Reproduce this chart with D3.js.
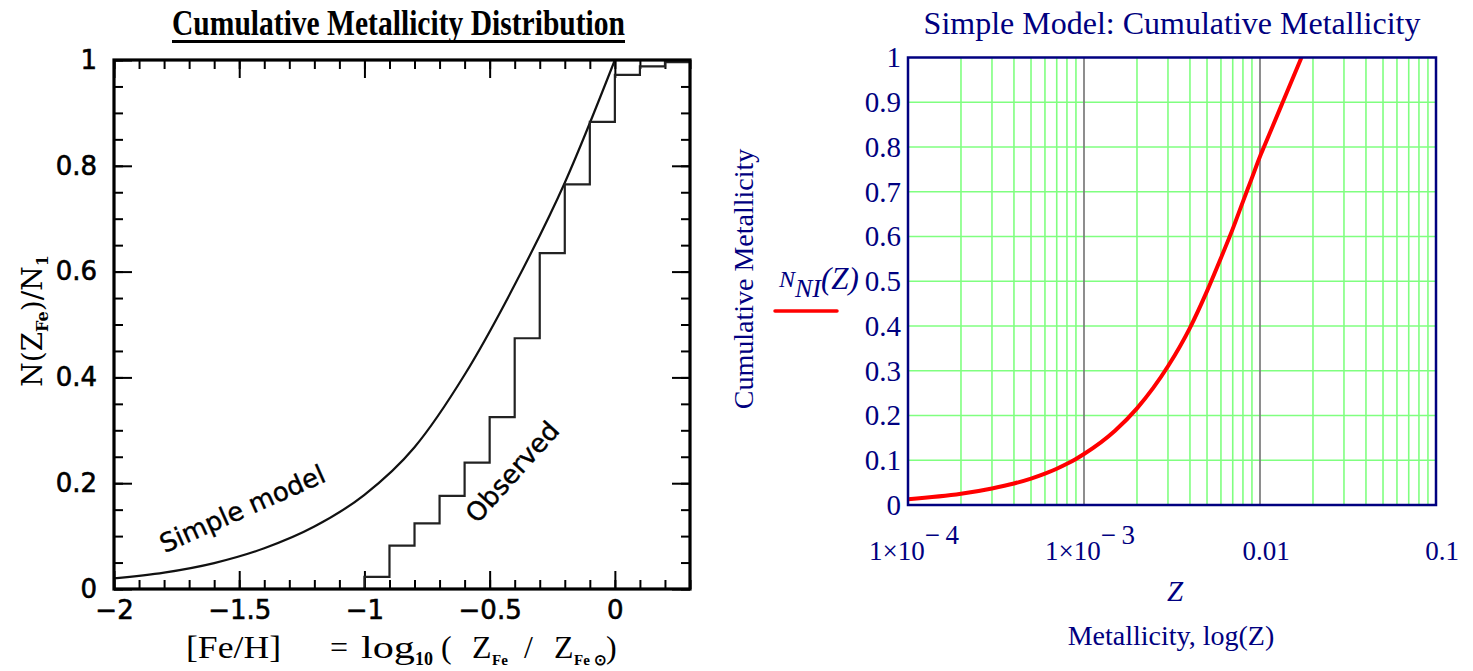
<!DOCTYPE html>
<html><head><meta charset="utf-8">
<script src="https://cdn.jsdelivr.net/npm/d3@7"></script>
<style>html,body{margin:0;padding:0;background:#fff;} svg{display:block;}</style>
</head><body><svg id="c" width="1473" height="671"></svg>
<script>
// ---------------- DATA ----------------
// Left panel: [Fe/H] ticks
const leftXTicks = [-2, -1.5, -1, -0.5, 0];
const leftXTickLabels = ["\u22122", "\u22121.5", "\u22121", "\u22120.5", "0"];
const leftYTicks = [0, 0.2, 0.4, 0.6, 0.8, 1];
const leftYTickLabels = ["0", "0.2", "0.4", "0.6", "0.8", "1"];
// Simple model curve (left)
const modelFeH = [-2.0, -1.8, -1.6, -1.4, -1.2, -1.0, -0.8, -0.6, -0.4, -0.2, 0.0];
const modelN   = [0.020, 0.031, 0.049, 0.077, 0.118, 0.178, 0.268, 0.405, 0.575, 0.768, 1.0];
// Observed cumulative histogram (left)
const obsEdges = [-1.0, -0.9, -0.8, -0.7, -0.6, -0.5, -0.4, -0.3, -0.2, -0.1, 0.0, 0.1, 0.2, 0.3];
const obsN     = [0.023, 0.082, 0.124, 0.176, 0.239, 0.325, 0.474, 0.635, 0.765, 0.883, 0.972, 0.988, 0.996];
// Right panel: simple model vs Z
const rightZ = [1e-4, 2e-4, 3e-4, 4e-4, 5e-4, 6e-4, 7e-4, 8e-4, 9e-4, 1e-3, 1.5e-3, 2e-3, 3e-3, 4e-3, 5e-3, 6e-3, 7e-3, 8e-3, 9e-3, 1e-2, 0.01053, 0.01346, 0.0172];
const rightN = [0.013, 0.025, 0.037, 0.048, 0.059, 0.070, 0.081, 0.092, 0.103, 0.114, 0.166, 0.216, 0.310, 0.396, 0.478, 0.552, 0.617, 0.678, 0.731, 0.779, 0.8, 0.9, 1.0];
const rightYTicks = [0, 0.1, 0.2, 0.3, 0.4, 0.5, 0.6, 0.7, 0.8, 0.9, 1];
const rightYTickLabels = ["0", "0.1", "0.2", "0.3", "0.4", "0.5", "0.6", "0.7", "0.8", "0.9", "1"];
const rightXTicks = [1e-4, 1e-3, 1e-2, 0.1];
const rightXTickMantissa = ["1\u00d710", "1\u00d710", "0.01", "0.1"];
const rightXTickExp = ["\u2212\u20094", "\u2212\u20093", "", ""];

// ---------------- DRAW ----------------
const svg = d3.select("#c");
svg.append("rect").attr("width", 1473).attr("height", 671).attr("fill", "#fff");

// ===== LEFT PANEL =====
const L = {x0: 114, x1: 690, y0: 589, y1: 60};
const lx = d3.scaleLinear().domain([-2, 0.3]).range([L.x0, L.x1]);
const ly = d3.scaleLinear().domain([0, 1]).range([L.y0, L.y1]);
const left = svg.append("g");

// title
left.append("text").attr("x", 398.5).attr("y", 35)
  .attr("text-anchor", "middle")
  .attr("font-family", "Liberation Serif").attr("font-weight", "bold").attr("font-size", 35)
  .attr("textLength", 453).attr("lengthAdjust", "spacingAndGlyphs")
  .text("Cumulative Metallicity Distribution");
left.append("line").attr("x1", 172).attr("x2", 625).attr("y1", 41.5).attr("y2", 41.5)
  .attr("stroke", "#000").attr("stroke-width", 3);

const minorX = d3.range(-20, 4).map(d => d / 10);
const minorY = d3.range(0, 21).map(d => d / 20);

function styleAxis(g) {
  g.select(".domain").remove();
  g.selectAll(".tick line").attr("stroke", "#000").attr("stroke-width", 2);
}
const tickFont = g => g.selectAll("text").attr("font-family", "DejaVu Sans").attr("font-size", 26)
  .attr("fill", "#000").attr("stroke", "#000").attr("stroke-width", 0.6);

left.append("g").attr("transform", `translate(0,${L.y0})`)
  .call(d3.axisBottom(lx).tickValues(minorX).tickSize(-9).tickFormat("")).call(styleAxis);
left.append("g").attr("transform", `translate(0,${L.y0})`)
  .call(d3.axisBottom(lx).tickValues(leftXTicks).tickSize(-18).tickPadding(12)
    .tickFormat((d, i) => leftXTickLabels[i])).call(styleAxis).call(tickFont);
left.append("g").attr("transform", `translate(0,${L.y1})`)
  .call(d3.axisTop(lx).tickValues(minorX).tickSize(-9).tickFormat("")).call(styleAxis);
left.append("g").attr("transform", `translate(0,${L.y1})`)
  .call(d3.axisTop(lx).tickValues(leftXTicks).tickSize(-18).tickFormat("")).call(styleAxis);
left.append("g").attr("transform", `translate(${L.x0},0)`)
  .call(d3.axisLeft(ly).tickValues(minorY).tickSize(-9).tickFormat("")).call(styleAxis);
left.append("g").attr("transform", `translate(${L.x0},0)`)
  .call(d3.axisLeft(ly).tickValues(leftYTicks).tickSize(-18).tickPadding(17)
    .tickFormat((d, i) => leftYTickLabels[i])).call(styleAxis).call(tickFont);
left.append("g").attr("transform", `translate(${L.x1},0)`)
  .call(d3.axisRight(ly).tickValues(minorY).tickSize(-9).tickFormat("")).call(styleAxis);
left.append("g").attr("transform", `translate(${L.x1},0)`)
  .call(d3.axisRight(ly).tickValues(leftYTicks).tickSize(-18).tickFormat("")).call(styleAxis);

// simple model curve
const modelPts = modelFeH.map((v, i) => [v, modelN[i]]);
left.append("path").datum(modelPts)
  .attr("d", d3.line().x(d => lx(d[0])).y(d => ly(d[1])).curve(d3.curveMonotoneX))
  .attr("fill", "none").attr("stroke", "#111").attr("stroke-width", 2.2);

// observed steps
const obsPts = [[obsEdges[0], 0]];
obsN.forEach((v, i) => obsPts.push([obsEdges[i], v]));
obsPts.push([obsEdges[obsEdges.length - 1], obsN[obsN.length - 1]]);
left.append("path").datum(obsPts)
  .attr("d", d3.line().x(d => lx(d[0])).y(d => ly(d[1])).curve(d3.curveStepAfter))
  .attr("fill", "none").attr("stroke", "#222").attr("stroke-width", 2.2);

// frame
left.append("rect").attr("x", L.x0).attr("y", L.y1).attr("width", L.x1 - L.x0).attr("height", L.y0 - L.y1)
  .attr("fill", "none").attr("stroke", "#000").attr("stroke-width", 3.2);

// annotations
left.append("text").attr("transform", "translate(246,517) rotate(-24)")
  .attr("text-anchor", "middle").attr("font-family", "DejaVu Sans").attr("font-size", 26)
  .attr("stroke", "#000").attr("stroke-width", 0.4)
  .text("Simple model");
left.append("text").attr("transform", "translate(519,478) rotate(-48)")
  .attr("text-anchor", "middle").attr("font-family", "DejaVu Sans").attr("font-size", 26)
  .attr("stroke", "#000").attr("stroke-width", 0.4)
  .text("Observed");

// y label
const ylab = left.append("text").attr("transform", "translate(42,321) rotate(-90)")
  .attr("text-anchor", "middle").attr("font-family", "DejaVu Serif").attr("font-size", 28);
ylab.append("tspan").text("N(Z");
ylab.append("tspan").attr("font-size", 16).attr("font-weight", "bold").attr("dy", 6).text("Fe");
ylab.append("tspan").attr("dy", -6).text(")/N");
ylab.append("tspan").attr("font-size", 16).attr("font-weight", "bold").attr("dy", 6).text("1");

// x label, pieces
const xl = left.append("text").attr("y", 658).attr("font-family", "Liberation Serif").attr("font-size", 32);
xl.append("tspan").attr("x", 186).attr("textLength", 95).attr("lengthAdjust", "spacingAndGlyphs").text("[Fe/H]");
xl.append("tspan").attr("x", 330).text("=");
xl.append("tspan").attr("x", 361).attr("textLength", 54).attr("lengthAdjust", "spacingAndGlyphs").text("log");
xl.append("tspan").attr("x", 415).attr("dy", 7).attr("font-size", 18).attr("font-weight", "bold").text("10");
xl.append("tspan").attr("x", 441).attr("dy", -7).text("(");
xl.append("tspan").attr("x", 472).text("Z");
xl.append("tspan").attr("x", 492).attr("dy", 7).attr("font-size", 15).attr("font-weight", "bold").text("Fe");
xl.append("tspan").attr("x", 524).attr("dy", -7).text("/");
xl.append("tspan").attr("x", 554).text("Z");
xl.append("tspan").attr("x", 574).attr("dy", 7).attr("font-size", 15).attr("font-weight", "bold").text("Fe \u2299");
xl.append("tspan").attr("x", 606).attr("dy", -7).text(")");

// ===== RIGHT PANEL =====
const navy = "#000080";
const R = {x0: 908, x1: 1436, y0: 505, y1: 57.5};
const rx = d3.scaleLog().domain([1e-4, 0.1]).range([R.x0, R.x1]);
const ry = d3.scaleLinear().domain([0, 1]).range([R.y0, R.y1]);
const right = svg.append("g");

right.append("text").attr("x", 1172).attr("y", 34).attr("text-anchor", "middle")
  .attr("font-family", "Liberation Serif").attr("font-size", 32).attr("fill", navy)
  .text("Simple Model: Cumulative Metallicity");

// grid
const logTicks = rx.ticks();
const isDecade = v => Math.abs(Math.log10(v) - Math.round(Math.log10(v))) < 1e-9;
const greenV = logTicks.filter(v => !isDecade(v));
const grayV = logTicks.filter(v => isDecade(v) && v > 1e-4 * 1.001 && v < 0.1 * 0.999);
const gridY = rightYTicks.filter(v => v > 0 && v < 1);
right.append("g").selectAll("line").data(gridY).join("line")
  .attr("x1", R.x0).attr("x2", R.x1).attr("y1", d => ry(d)).attr("y2", d => ry(d))
  .attr("stroke", "#80ff80").attr("stroke-width", 1.6);
right.append("g").selectAll("line").data(greenV).join("line")
  .attr("x1", d => rx(d)).attr("x2", d => rx(d)).attr("y1", R.y1).attr("y2", R.y0)
  .attr("stroke", "#80ff80").attr("stroke-width", 1.6);
right.append("g").selectAll("line").data(grayV).join("line")
  .attr("x1", d => rx(d)).attr("x2", d => rx(d)).attr("y1", R.y1).attr("y2", R.y0)
  .attr("stroke", "#7a7a7a").attr("stroke-width", 1.7);

// curve
svg.append("defs").append("clipPath").attr("id", "rclip").append("rect")
  .attr("x", R.x0).attr("y", R.y1).attr("width", R.x1 - R.x0).attr("height", R.y0 - R.y1);
const rPts = rightZ.map((z, i) => [z, rightN[i]]);
right.append("path").datum(rPts).attr("clip-path", "url(#rclip)")
  .attr("d", d3.line().x(d => rx(d[0])).y(d => ry(d[1])).curve(d3.curveMonotoneX))
  .attr("fill", "none").attr("stroke", "#ff0000").attr("stroke-width", 4);

// frame
right.append("rect").attr("x", R.x0).attr("y", R.y1).attr("width", R.x1 - R.x0).attr("height", R.y0 - R.y1)
  .attr("fill", "none").attr("stroke", navy).attr("stroke-width", 2.5);

// y tick labels
right.append("g").attr("transform", `translate(${R.x0},0)`)
  .call(d3.axisLeft(ry).tickValues(rightYTicks).tickSize(0).tickPadding(7)
    .tickFormat((d, i) => rightYTickLabels[i]))
  .call(g => g.select(".domain").remove())
  .call(g => g.selectAll("text").attr("font-family", "Liberation Serif").attr("font-size", 29).attr("fill", navy));

// x tick labels
const xt = right.append("g").selectAll("text").data(rightXTicks).join("text")
  .attr("x", d => rx(d) + 6).attr("y", 560).attr("text-anchor", "middle")
  .attr("font-family", "Liberation Serif").attr("font-size", 27).attr("fill", navy);
xt.append("tspan").text((d, i) => rightXTickMantissa[i]);
xt.append("tspan").attr("dy", -16).text((d, i) => rightXTickExp[i]);

right.append("text").attr("x", 1175).attr("y", 601).attr("text-anchor", "middle")
  .attr("font-family", "Liberation Serif").attr("font-style", "italic").attr("font-size", 29).attr("fill", navy)
  .text("Z");
right.append("text").attr("x", 1171).attr("y", 645).attr("text-anchor", "middle")
  .attr("font-family", "Liberation Serif").attr("font-size", 28).attr("fill", navy)
  .text("Metallicity, log(Z)");
right.append("text").attr("transform", "translate(753,279) rotate(-90)").attr("text-anchor", "middle")
  .attr("font-family", "Liberation Serif").attr("font-size", 28).attr("fill", navy)
  .text("Cumulative Metallicity");

// legend
const lg = right.append("text").attr("x", 779).attr("y", 287)
  .attr("font-family", "Liberation Serif").attr("font-style", "italic").attr("fill", navy);
lg.append("tspan").attr("font-size", 24).text("N");
lg.append("tspan").attr("font-size", 26).attr("dy", 10).text("NI");
lg.append("tspan").attr("font-size", 31).attr("dy", -8).text("(Z)");
right.append("line").attr("x1", 775).attr("x2", 837).attr("y1", 311).attr("y2", 311)
  .attr("stroke", "#ff0000").attr("stroke-width", 3.5).attr("stroke-linecap", "round");
</script>
</body></html>
